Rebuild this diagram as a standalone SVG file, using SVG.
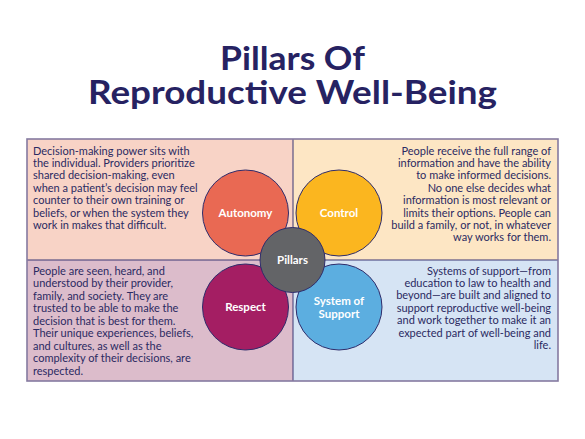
<svg xmlns="http://www.w3.org/2000/svg" width="585" height="439" viewBox="0 0 585 439">
<style>
.title{font-family:Lato,"Liberation Sans",sans-serif;font-weight:bold;font-size:32px;fill:#262262;text-anchor:middle}
.body{font-family:Lato,"Liberation Sans",sans-serif;font-size:11px;fill:#2b2a62}
.r{text-anchor:end}
.circ{stroke:#2e2c6b;stroke-width:1}
.lab{font-family:Lato,"Liberation Sans",sans-serif;font-weight:bold;font-size:11.5px;fill:#ffffff;text-anchor:middle}
.div{stroke:#3a3775;stroke-width:1;fill:none}
</style>
<rect width="585" height="439" fill="#ffffff"/>
<g id="title">
<text class="title" x="292.5" y="70" textLength="145" lengthAdjust="spacingAndGlyphs">Pillars Of</text>
<text class="title" x="292.5" y="104" textLength="409" lengthAdjust="spacingAndGlyphs">Reproductive Well-Being</text>
</g>
<g id="quadrants">
<rect x="27" y="139" width="266" height="121" fill="#f8d3c6"/>
<rect x="293" y="139" width="265" height="121" fill="#fde6c4"/>
<rect x="27" y="260" width="266" height="121" fill="#dcbccb"/>
<rect x="293" y="260" width="265" height="121" fill="#d6e4f4"/>
<line class="div" x1="293" y1="139" x2="293" y2="381"/>
<line class="div" x1="27" y1="260" x2="558" y2="260"/>
<rect x="27" y="139" width="531" height="242" fill="none" stroke="#857aa0" stroke-width="1.6"/>
</g>
<g id="text-autonomy" class="body">
<text x="33" y="154.5">Decision-making power sits with</text>
<text x="33" y="166.9">the individual. Providers prioritize</text>
<text x="33" y="179.3">shared decision-making, even</text>
<text x="33" y="191.7">when a patient’s decision may feel</text>
<text x="33" y="204.1">counter to their own training or</text>
<text x="33" y="216.5">beliefs, or when the system they</text>
<text x="33" y="228.9">work in makes that difficult.</text>
</g>
<g id="text-control" class="body r">
<text x="551" y="154.5">People receive the full range of</text>
<text x="551" y="166.9">information and have the ability</text>
<text x="551" y="179.3">to make informed decisions.</text>
<text x="551" y="191.7">No one else decides what</text>
<text x="551" y="204.1">information is most relevant or</text>
<text x="551" y="216.5">limits their options. People can</text>
<text x="551" y="228.9">build a family, or not, in whatever</text>
<text x="551" y="241.3">way works for them.</text>
</g>
<g id="text-respect" class="body">
<text x="33" y="274.5">People are seen, heard, and</text>
<text x="33" y="287">understood by their provider,</text>
<text x="33" y="299.5">family, and society. They are</text>
<text x="33" y="312">trusted to be able to make the</text>
<text x="33" y="324.5">decision that is best for them.</text>
<text x="33" y="337">Their unique experiences, beliefs,</text>
<text x="33" y="349.5">and cultures, as well as the</text>
<text x="33" y="362">complexity of their decisions, are</text>
<text x="33" y="374.5">respected.</text>
</g>
<g id="text-support" class="body r">
<text x="551" y="274.5">Systems of support—from</text>
<text x="551" y="286.9">education to law to health and</text>
<text x="551" y="299.3">beyond—are built and aligned to</text>
<text x="551" y="311.7">support reproductive well-being</text>
<text x="551" y="324.1">and work together to make it an</text>
<text x="551" y="336.5">expected part of well-being and</text>
<text x="551" y="348.9">life.</text>
</g>
<g id="connectors"></g>
<g id="autonomy">
<circle class="circ" cx="245.5" cy="213" r="43" fill="#e96953"/>
<text class="lab" x="245.5" y="217">Autonomy</text>
</g>
<g id="control">
<circle class="circ" cx="339" cy="213" r="43" fill="#fbb61f"/>
<text class="lab" x="339" y="217">Control</text>
</g>
<g id="respect">
<circle class="circ" cx="245.5" cy="307" r="43" fill="#a41e63"/>
<text class="lab" x="245.5" y="311">Respect</text>
</g>
<g id="support">
<circle class="circ" cx="339" cy="307" r="43" fill="#5caee0"/>
<text class="lab" x="339" y="305">System of</text>
<text class="lab" x="339" y="318">Support</text>
</g>
<g id="pillars">
<circle class="circ" cx="292.5" cy="260" r="32.5" fill="#636467"/>
<text class="lab" x="292.5" y="264">Pillars</text>
</g>
</svg>
